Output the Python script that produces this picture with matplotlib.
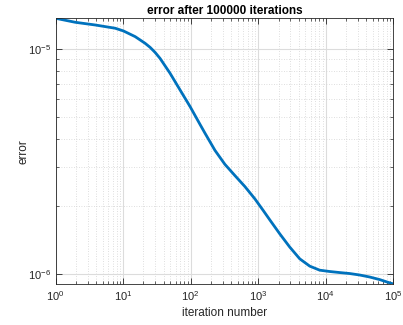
import matplotlib
matplotlib.use("Agg")
import matplotlib.pyplot as plt
from matplotlib.ticker import LogLocator, NullFormatter

plt.rcParams['font.family'] = ['Liberation Sans', 'DejaVu Sans']

# iteration number vs. error
iterations = [1, 1.954, 3.86, 7.62, 10.1, 15.04, 21.1, 25.1, 29.7, 35.2,
              49.4, 69.5, 97.7, 137.2, 162.6, 228.6, 321, 451, 634, 891,
              1181, 1484, 2085, 2930, 4118, 5785, 8125, 11420, 16050, 22540,
              31680, 44500, 62550, 79340, 100000]
errors = [1.373e-5, 1.318e-5, 1.282e-5, 1.240e-5, 1.206e-5, 1.138e-5,
          1.063e-5, 1.019e-5, 9.68e-6, 9.10e-6, 7.82e-6, 6.59e-6, 5.56e-6,
          4.63e-6, 4.23e-6, 3.546e-6, 3.072e-6, 2.739e-6, 2.447e-6, 2.157e-6,
          1.917e-6, 1.738e-6, 1.506e-6, 1.315e-6, 1.166e-6, 1.082e-6,
          1.038e-6, 1.024e-6, 1.013e-6, 1.003e-6, 9.88e-7, 9.68e-7, 9.43e-7,
          9.21e-7, 9.01e-7]

title_text = "error after 100000 iterations"
x_label = "iteration number"
y_label = "error"

axis_color = "#262626"

fig = plt.figure(figsize=(4.03, 3.25), dpi=100)
ax = fig.add_axes([0.138, 0.1262, 0.838, 0.8175])

ax.loglog(iterations, errors, color="#0072BD", linewidth=2.0,
          solid_joinstyle="round", solid_capstyle="butt")

ax.set_xlim(1, 1e5)
ax.set_ylim(min(errors), max(errors))

ax.xaxis.set_major_locator(LogLocator(base=10, numticks=10))
ax.xaxis.set_minor_locator(LogLocator(base=10, subs=range(2, 10), numticks=20))
ax.xaxis.set_minor_formatter(NullFormatter())
ax.yaxis.set_major_locator(LogLocator(base=10, numticks=10))
ax.yaxis.set_minor_locator(LogLocator(base=10, subs=range(2, 10), numticks=20))
ax.yaxis.set_minor_formatter(NullFormatter())

ax.grid(True, which="major", color="#dcdcdc", linewidth=0.8, linestyle="-")
ax.grid(True, which="minor", color="#d4d4d4", linewidth=0.6, linestyle=(0, (1, 2)))
ax.set_axisbelow(True)

ax.tick_params(which="both", direction="in", top=True, right=True,
               colors=axis_color, labelsize=8)
ax.tick_params(which="major", length=4, width=0.6)
ax.tick_params(which="minor", length=2, width=0.5)
for spine in ax.spines.values():
    spine.set_color(axis_color)
    spine.set_linewidth(0.6)

ax.set_title(title_text, fontsize=8.5, fontweight="bold", color="black", pad=3)
ax.set_xlabel(x_label, fontsize=8.5, color=axis_color, labelpad=3)
ax.set_ylabel(y_label, fontsize=8.5, color=axis_color, labelpad=-1)

fig.savefig("out.png", dpi=100, facecolor="white")
